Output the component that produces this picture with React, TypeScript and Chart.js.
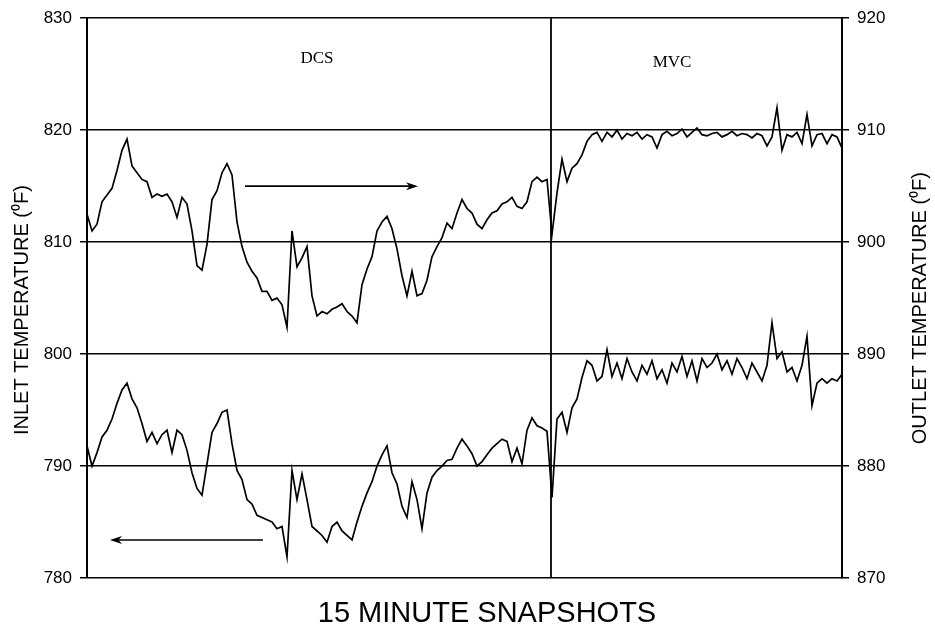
import React, { useEffect, useRef } from "react";
import { Chart, registerables } from "chart.js";

Chart.register(...registerables);

// 15-minute snapshot index (category axis)
const snapshots: string[] = Array.from({ length: 152 }, (_, i) => String(i + 1));

// Outlet temperature (°F) – right axis (upper trace)
const outletTemp: number[] = [
  902.5, 901.0, 901.6, 903.6, 904.2, 904.8, 906.4, 908.2, 909.2, 906.8,
  906.2, 905.6, 905.4, 904.0, 904.3, 904.1, 904.3, 903.6, 902.2, 904.0,
  903.4, 901.0, 897.9, 897.5, 899.8, 903.8, 904.6, 906.2, 907.0, 906.0,
  901.8, 899.6, 898.2, 897.4, 896.8, 895.6, 895.6, 894.8, 895.0, 894.4,
  892.4, 901.0, 897.8, 898.6, 899.6, 895.2, 893.4, 893.8, 893.6, 894.0,
  894.2, 894.5, 893.8, 893.4, 892.8, 896.2, 897.6, 898.7, 901.0, 901.8,
  902.3, 901.2, 899.4, 897.0, 895.2, 897.4, 895.2, 895.4, 896.6, 898.7,
  899.6, 900.4, 901.7, 901.2, 902.6, 903.8, 903.0, 902.6, 901.6, 901.2,
  902.0, 902.6, 902.8, 903.4, 903.6, 904.0, 903.2, 903.0, 903.6, 905.4,
  905.8, 905.4, 905.6, 900.7, 904.4, 907.4, 905.4, 906.6, 907.0, 907.8,
  909.0, 909.6, 909.8, 909.0, 909.8, 909.4, 910.0, 909.2, 909.7, 909.5,
  909.8, 909.2, 909.6, 909.4, 908.4, 909.6, 909.9, 909.5, 909.7, 910.1,
  909.4, 909.8, 910.2, 909.6, 909.5, 909.7, 909.8, 909.4, 909.6, 909.9,
  909.5, 909.7, 909.6, 909.3, 909.7, 909.5, 908.6, 909.4, 912.0, 908.2,
  909.6, 909.4, 909.8, 908.8, 911.4, 908.6, 909.6, 909.7, 908.8, 909.6,
  909.4, 908.4,
];

// Inlet temperature (°F) – left axis (lower trace)
const inletTemp: number[] = [
  791.8, 790.0, 791.2, 792.6, 793.2, 794.2, 795.6, 796.8, 797.4, 796.0,
  795.2, 793.8, 792.2, 793.0, 792.0, 792.8, 793.2, 791.2, 793.2, 792.8,
  791.4, 789.4, 788.0, 787.4, 790.2, 793.0, 793.8, 794.8, 795.0, 792.0,
  789.6, 788.8, 787.0, 786.6, 785.6, 785.4, 785.2, 785.0, 784.4, 784.6,
  781.9, 789.6, 787.0, 789.3, 787.0, 784.6, 784.2, 783.8, 783.2, 784.6,
  785.0, 784.2, 783.8, 783.4, 785.0, 786.4, 787.6, 788.6, 790.0, 791.0,
  791.8, 789.4, 788.4, 786.4, 785.4, 788.6, 787.0, 784.4, 787.6, 789.0,
  789.6, 790.0, 790.5, 790.6, 791.6, 792.4, 791.8, 791.1, 790.0, 790.4,
  791.0, 791.6, 792.0, 792.4, 792.2, 790.4, 791.6, 790.2, 793.2, 794.3,
  793.6, 793.4, 793.1, 787.2, 794.2, 794.8, 793.0, 795.2, 796.0, 797.9,
  799.4, 799.0, 797.6, 798.0, 800.4, 798.0, 799.2, 797.8, 799.6, 798.4,
  797.6, 799.0, 798.2, 799.4, 797.8, 798.6, 797.4, 799.2, 798.4, 799.8,
  798.0, 799.4, 797.6, 799.6, 798.8, 799.2, 800.0, 798.6, 799.4, 798.2,
  799.6, 798.8, 797.8, 799.2, 798.4, 797.6, 799.0, 802.8, 799.6, 800.2,
  798.4, 798.8, 797.6, 799.0, 801.6, 795.4, 797.4, 797.8, 797.4, 797.8,
  797.6, 798.2,
];

// Axis tick values
const inletTicks: number[] = [780, 790, 800, 810, 820, 830];
const outletTicks: number[] = [870, 880, 890, 900, 910, 920];

// Axis titles
const inletTitle = "INLET TEMPERATURE (\u2070F)";
const outletTitle = "OUTLET TEMPERATURE (\u2070F)";
const snapshotTitle = "15 MINUTE SNAPSHOTS";

// Control-mode change (snapshot index) and mode labels
const modeSwitchAt = 92.8;
const modeNames: string[] = ["DCS", "MVC"];
const modeLabelAt: number[] = [46, 117];
const modeLabelLevel: number[] = [826.4, 826.0];

// Arrows showing which axis each trace belongs to (snapshot index, inlet-axis value)
const arrowFrom: number[] = [31.6, 35.2];
const arrowTo: number[] = [66.2, 4.6];
const arrowLevel: number[] = [815.0, 783.4];

const SANS = "'Liberation Sans', Arial, sans-serif";
const SERIF = "'Liberation Serif', 'Times New Roman', serif";

function drawArrow(ctx: CanvasRenderingContext2D, x1: number, y1: number, x2: number, y2: number) {
  const dir = Math.sign(x2 - x1) || 1;
  const head = 12;
  ctx.beginPath();
  ctx.moveTo(x1, y1);
  ctx.lineTo(x2 - dir * head * 0.6, y2);
  ctx.stroke();
  ctx.beginPath();
  ctx.moveTo(x2, y2);
  ctx.lineTo(x2 - dir * head, y2 - 4);
  ctx.lineTo(x2 - dir * head * 0.7, y2);
  ctx.lineTo(x2 - dir * head, y2 + 4);
  ctx.closePath();
  ctx.fill();
}

function drawRotated(ctx: CanvasRenderingContext2D, text: string, x: number, y: number) {
  ctx.save();
  ctx.translate(x, y);
  ctx.rotate(-Math.PI / 2);
  ctx.fillText(text, 0, 0);
  ctx.restore();
}

const annotationPlugin = {
  id: "snapshotAnnotations",
  afterDatasetsDraw(chart: any) {
    const { ctx, chartArea, scales } = chart;
    const xs = scales.x;
    const ys = scales.y;
    ctx.save();
    ctx.strokeStyle = "#000";
    ctx.fillStyle = "#000";

    // divider between DCS and MVC
    const dx = xs.getPixelForValue(modeSwitchAt);
    ctx.lineWidth = 1.8;
    ctx.beginPath();
    ctx.moveTo(dx, chartArea.top);
    ctx.lineTo(dx, chartArea.bottom);
    ctx.stroke();

    // mode labels
    ctx.font = `17px ${SERIF}`;
    ctx.textAlign = "center";
    ctx.textBaseline = "middle";
    modeNames.forEach((name, i) => {
      ctx.fillText(name, xs.getPixelForValue(modeLabelAt[i]), ys.getPixelForValue(modeLabelLevel[i]));
    });

    // arrows
    ctx.lineWidth = 1.6;
    arrowFrom.forEach((from, i) => {
      const y = ys.getPixelForValue(arrowLevel[i]);
      drawArrow(ctx, xs.getPixelForValue(from), y, xs.getPixelForValue(arrowTo[i]), y);
    });

    // axis titles (both vertical ones read bottom-to-top)
    const midY = (chartArea.top + chartArea.bottom) / 2;
    ctx.font = `20px ${SANS}`;
    drawRotated(ctx, inletTitle, 22, midY + 12);
    drawRotated(ctx, outletTitle, 920, midY + 10);

    ctx.font = `29px ${SANS}`;
    ctx.fillText(snapshotTitle, 487, 614);
    ctx.restore();
  },
};

export default function App() {
  const canvasRef = useRef<HTMLCanvasElement | null>(null);

  useEffect(() => {
    if (!canvasRef.current) return;
    Chart.defaults.font.family = SANS;
    Chart.defaults.color = "#000";

    const chart = new Chart(canvasRef.current, {
      type: "line",
      data: {
        labels: snapshots,
        datasets: [
          {
            label: "Outlet temperature",
            data: outletTemp,
            yAxisID: "y1",
            borderColor: "#000",
            borderWidth: 1.7,
            pointRadius: 0,
            tension: 0,
            fill: false,
          },
          {
            label: "Inlet temperature",
            data: inletTemp,
            yAxisID: "y",
            borderColor: "#000",
            borderWidth: 1.7,
            pointRadius: 0,
            tension: 0,
            fill: false,
          },
        ],
      },
      options: {
        responsive: false,
        animation: false,
        layout: { padding: { top: 16, left: 0, right: 0, bottom: 0 } },
        plugins: {
          legend: { display: false },
          tooltip: { enabled: false },
        },
        scales: {
          x: {
            type: "category",
            offset: false,
            ticks: { display: false },
            grid: { display: false },
            border: { display: false },
            afterFit: (s: any) => {
              s.height = 54;
            },
          },
          y: {
            position: "left",
            min: 780,
            max: 830,
            afterBuildTicks: (s: any) => {
              s.ticks = inletTicks.map((v) => ({ value: v }));
            },
            ticks: { font: { size: 17 }, color: "#000", padding: 8 },
            grid: { color: "#000", lineWidth: 1.5, tickLength: 7, drawTicks: true },
            border: { display: true, color: "#000", width: 2 },
            afterFit: (s: any) => {
              s.width = 87;
            },
          },
          y1: {
            position: "right",
            min: 870,
            max: 920,
            afterBuildTicks: (s: any) => {
              s.ticks = outletTicks.map((v) => ({ value: v }));
            },
            ticks: { font: { size: 17 }, color: "#000", padding: 8 },
            grid: { drawOnChartArea: false, color: "#000", lineWidth: 1.5, tickLength: 7 },
            border: { display: true, color: "#000", width: 2 },
            afterFit: (s: any) => {
              s.width = 93;
            },
          },
        },
      },
      plugins: [annotationPlugin],
    });

    return () => chart.destroy();
  }, []);

  return (
    <div style={{ position: "fixed", left: 0, top: 0, width: 935, height: 632, background: "#fff" }}>
      <canvas ref={canvasRef} width={935} height={632} />
    </div>
  );
}
